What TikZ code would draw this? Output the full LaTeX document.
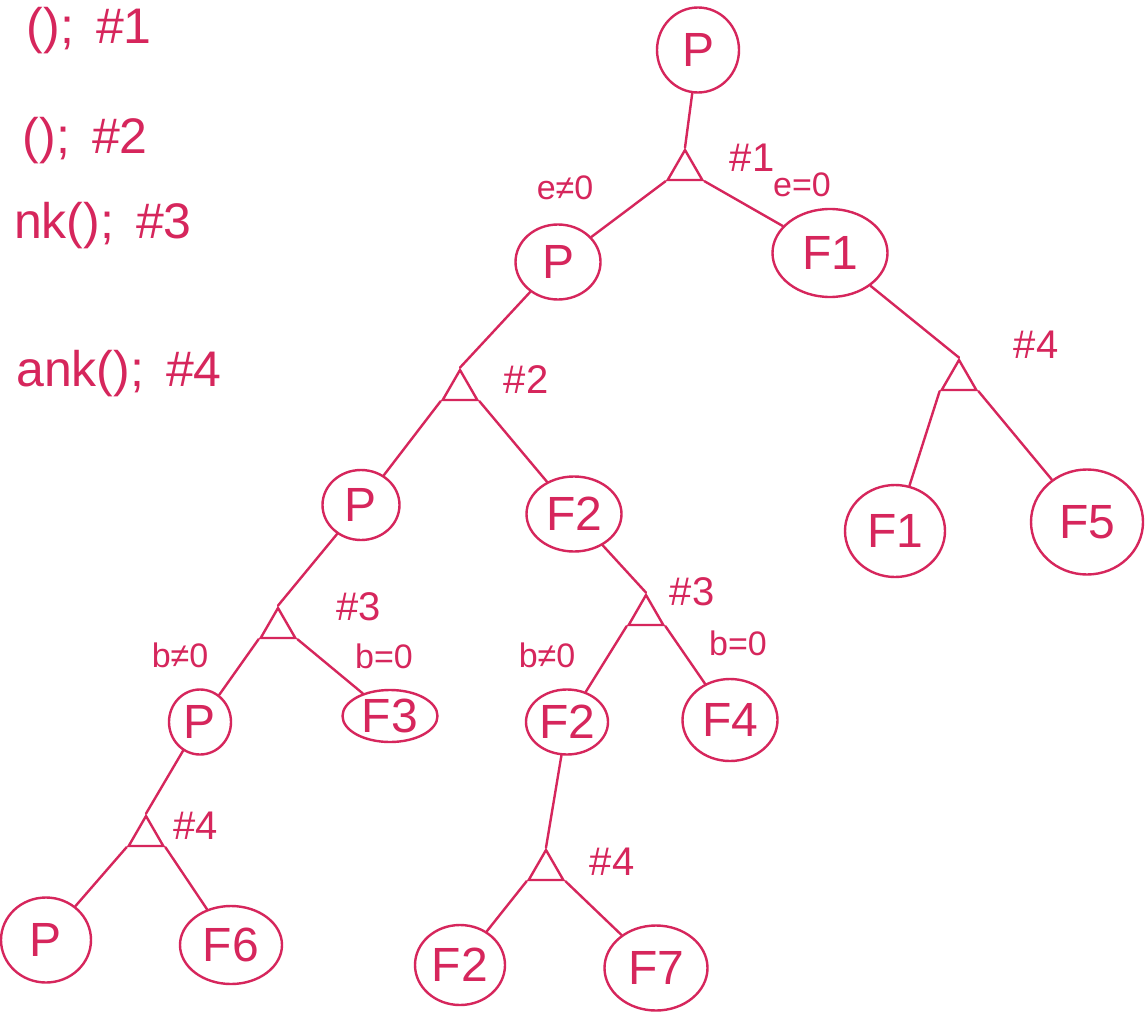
\documentclass[tikz,border=0pt]{standalone}
\usepackage{fontspec}
\setmainfont{Liberation Sans}
\usetikzlibrary{shapes.geometric}
\definecolor{ink}{RGB}{214,38,92}
\newcommand{\nfont}{\fontsize{48}{52}\selectfont}
\newcommand{\lfont}{\fontsize{40}{44}\selectfont}
\newcommand{\cfont}{\fontsize{34}{38}\selectfont}
\newcommand{\codefont}{\fontsize{50}{54}\selectfont}
\tikzset{
  st/.style={draw=ink, line width=2.4pt, ellipse, inner sep=0pt, text=ink, font=\nfont},
  tri/.style={draw=ink, line width=2.4pt, regular polygon, regular polygon sides=3, minimum size=40pt, inner sep=0pt},
  lbl/.style={text=ink, font=\lfont, inner sep=0pt},
  cond/.style={text=ink, font=\cfont, inner sep=0pt},
  code/.style={text=ink, font=\codefont, inner sep=0pt, anchor=base east},
  edge/.style={draw=ink, line width=2.4pt, line cap=round}
}
\begin{document}
\begin{tikzpicture}[x=1pt,y=-1pt]
\useasboundingbox (0,0) rectangle (1147,1024);
\fill[white] (0,0) rectangle (1147,1024);
\begin{scope}
\clip (0,0) rectangle (1147,1024);
% code fragments at the left
\node[code] (c1) at (152,44) {();\hspace{22pt}\#1};
\node[code] (c2) at (148,154) {();\hspace{22pt}\#2};
\node[code] (c3) at (192,238) {nk();\hspace{22pt}\#3};
\node[code] (c4) at (222,386) {ank();\hspace{22pt}\#4};
\end{scope}
% nodes
\node[st, minimum width=82pt, minimum height=85pt] (root) at (698,50) {P};
\node[tri] (t1) at (685,170) {};
\node[st, minimum width=85pt, minimum height=75pt] (p2) at (558,262) {P};
\node[st, minimum width=115pt, minimum height=88pt] (f1a) at (830,253) {F1};
\node[tri] (t2) at (460,390) {};
\node[st, minimum width=77pt, minimum height=70pt] (p3) at (361,505) {P};
\node[st, minimum width=95pt, minimum height=75pt] (f2a) at (574,514) {F2};
\node[tri] (t4r) at (959,380) {};
\node[st, minimum width=100pt, minimum height=92pt] (f1b) at (895,531) {F1};
\node[st, minimum width=112pt, minimum height=105pt] (f5) at (1087,522) {F5};
\node[tri] (t3l) at (278,628) {};
\node[st, minimum width=95pt, minimum height=52pt] (f3) at (390,716) {F3};
\node[st, minimum width=62pt, minimum height=65pt] (p4) at (200,722) {P};
\node[tri] (t3r) at (646,615) {};
\node[st, minimum width=82pt, minimum height=65pt] (f2b) at (567,722) {F2};
\node[st, minimum width=95pt, minimum height=82pt] (f4) at (730,720) {F4};
\node[tri] (t4l) at (146,836) {};
\node[st, minimum width=90pt, minimum height=85pt] (pb) at (46,940) {P};
\node[st, minimum width=102pt, minimum height=78pt] (f6) at (231,945) {F6};
\node[tri] (t4m) at (546,870) {};
\node[st, minimum width=90pt, minimum height=80pt] (f2c) at (460,965) {F2};
\node[st, minimum width=103pt, minimum height=85pt] (f7) at (656,968) {F7};
% labels
\node[lbl] (l1) at (752,158) {\#1};
\node[cond] (e1) at (565,188) {e≠0};
\node[cond] (e2) at (802,185) {e=0};
\node[lbl] (l2) at (526,380) {\#2};
\node[lbl] (l4r) at (1036,345) {\#4};
\node[lbl] (l3l) at (359,607) {\#3};
\node[cond] (b1) at (180,655) {b≠0};
\node[cond] (b2) at (384,656) {b=0};
\node[lbl] (l3r) at (692,592) {\#3};
\node[cond] (b3) at (547,655) {b≠0};
\node[cond] (b4) at (738,643) {b=0};
\node[lbl] (l4l) at (196,826) {\#4};
\node[lbl] (l4m) at (612,862) {\#4};
% connectors
\draw[edge] (root) -- (t1.corner 1);
\draw[edge] (t1.corner 2) -- (p2);
\draw[edge] (t1.corner 3) -- (f1a);
\draw[edge] (p2) -- (t2.corner 1);
\draw[edge] (t2.corner 2) -- (p3);
\draw[edge] (t2.corner 3) -- (f2a);
\draw[edge] (f1a) -- (t4r.corner 1);
\draw[edge] (t4r.corner 2) -- (f1b);
\draw[edge] (t4r.corner 3) -- (f5);
\draw[edge] (p3) -- (t3l.corner 1);
\draw[edge] (t3l.corner 2) -- (p4);
\draw[edge] (t3l.corner 3) -- (f3);
\draw[edge] (f2a) -- (t3r.corner 1);
\draw[edge] (t3r.corner 2) -- (f2b);
\draw[edge] (t3r.corner 3) -- (f4);
\draw[edge] (p4) -- (t4l.corner 1);
\draw[edge] (t4l.corner 2) -- (pb);
\draw[edge] (t4l.corner 3) -- (f6);
\draw[edge] (f2b) -- (t4m.corner 1);
\draw[edge] (t4m.corner 2) -- (f2c);
\draw[edge] (t4m.corner 3) -- (f7);
\end{tikzpicture}
\end{document}
